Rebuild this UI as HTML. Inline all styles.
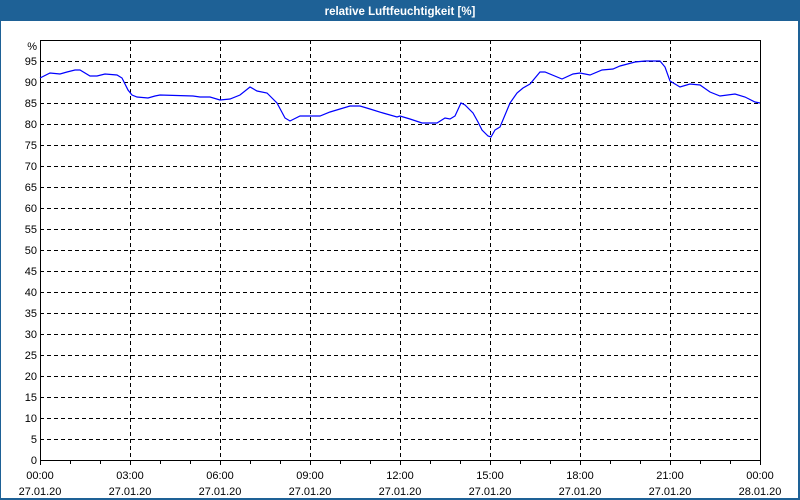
<!DOCTYPE html>
<html><head><meta charset="utf-8"><style>
html,body{margin:0;padding:0;background:#fff;}
svg{display:block;font-family:"Liberation Sans",sans-serif;font-size:11px;}
</style></head><body>
<svg width="800" height="500" viewBox="0 0 800 500" xmlns="http://www.w3.org/2000/svg">
<rect x="0" y="0" width="800" height="500" fill="#1e6196"/>
<rect x="1" y="21" width="797" height="477" fill="#fff"/>
<text x="400" y="15" fill="#fff" font-weight="bold" text-anchor="middle" font-size="11.5">relative Luftfeuchtigkeit [%]</text>
<g stroke="#000" stroke-width="1" stroke-dasharray="4,3" shape-rendering="crispEdges">
<line x1="40" x2="760" y1="61.5" y2="61.5"/><line x1="40" x2="760" y1="82.5" y2="82.5"/><line x1="40" x2="760" y1="103.5" y2="103.5"/><line x1="40" x2="760" y1="124.5" y2="124.5"/><line x1="40" x2="760" y1="145.5" y2="145.5"/><line x1="40" x2="760" y1="166.5" y2="166.5"/><line x1="40" x2="760" y1="187.5" y2="187.5"/><line x1="40" x2="760" y1="208.5" y2="208.5"/><line x1="40" x2="760" y1="229.5" y2="229.5"/><line x1="40" x2="760" y1="250.5" y2="250.5"/><line x1="40" x2="760" y1="271.5" y2="271.5"/><line x1="40" x2="760" y1="292.5" y2="292.5"/><line x1="40" x2="760" y1="313.5" y2="313.5"/><line x1="40" x2="760" y1="334.5" y2="334.5"/><line x1="40" x2="760" y1="355.5" y2="355.5"/><line x1="40" x2="760" y1="376.5" y2="376.5"/><line x1="40" x2="760" y1="397.5" y2="397.5"/><line x1="40" x2="760" y1="418.5" y2="418.5"/><line x1="40" x2="760" y1="439.5" y2="439.5"/>
<line x1="130.5" x2="130.5" y1="40" y2="460"/><line x1="220.5" x2="220.5" y1="40" y2="460"/><line x1="310.5" x2="310.5" y1="40" y2="460"/><line x1="400.5" x2="400.5" y1="40" y2="460"/><line x1="490.5" x2="490.5" y1="40" y2="460"/><line x1="580.5" x2="580.5" y1="40" y2="460"/><line x1="670.5" x2="670.5" y1="40" y2="460"/>
</g>
<rect x="40.5" y="40.5" width="720" height="420" fill="none" stroke="#000" shape-rendering="crispEdges"/>
<g stroke="#000" shape-rendering="crispEdges">
<line x1="40.5" x2="40.5" y1="460" y2="465"/><line x1="70.5" x2="70.5" y1="460" y2="464"/><line x1="100.5" x2="100.5" y1="460" y2="464"/><line x1="130.5" x2="130.5" y1="460" y2="465"/><line x1="160.5" x2="160.5" y1="460" y2="464"/><line x1="190.5" x2="190.5" y1="460" y2="464"/><line x1="220.5" x2="220.5" y1="460" y2="465"/><line x1="250.5" x2="250.5" y1="460" y2="464"/><line x1="280.5" x2="280.5" y1="460" y2="464"/><line x1="310.5" x2="310.5" y1="460" y2="465"/><line x1="340.5" x2="340.5" y1="460" y2="464"/><line x1="370.5" x2="370.5" y1="460" y2="464"/><line x1="400.5" x2="400.5" y1="460" y2="465"/><line x1="430.5" x2="430.5" y1="460" y2="464"/><line x1="460.5" x2="460.5" y1="460" y2="464"/><line x1="490.5" x2="490.5" y1="460" y2="465"/><line x1="520.5" x2="520.5" y1="460" y2="464"/><line x1="550.5" x2="550.5" y1="460" y2="464"/><line x1="580.5" x2="580.5" y1="460" y2="465"/><line x1="610.5" x2="610.5" y1="460" y2="464"/><line x1="640.5" x2="640.5" y1="460" y2="464"/><line x1="670.5" x2="670.5" y1="460" y2="465"/><line x1="700.5" x2="700.5" y1="460" y2="464"/><line x1="730.5" x2="730.5" y1="460" y2="464"/><line x1="760.5" x2="760.5" y1="460" y2="465"/>
</g>
<g fill="#000" text-anchor="end">
<text x="37" y="50">%</text>
<text x="37" y="65">95</text><text x="37" y="86">90</text><text x="37" y="107">85</text><text x="37" y="128">80</text><text x="37" y="149">75</text><text x="37" y="170">70</text><text x="37" y="191">65</text><text x="37" y="212">60</text><text x="37" y="233">55</text><text x="37" y="254">50</text><text x="37" y="275">45</text><text x="37" y="296">40</text><text x="37" y="317">35</text><text x="37" y="338">30</text><text x="37" y="359">25</text><text x="37" y="380">20</text><text x="37" y="401">15</text><text x="37" y="422">10</text><text x="37" y="443">5</text><text x="37" y="464">0</text>
</g>
<g fill="#000" text-anchor="middle">
<text x="40" y="479">00:00</text><text x="40" y="495">27.01.20</text>
<text x="130" y="479">03:00</text><text x="130" y="495">27.01.20</text>
<text x="220" y="479">06:00</text><text x="220" y="495">27.01.20</text>
<text x="310" y="479">09:00</text><text x="310" y="495">27.01.20</text>
<text x="400" y="479">12:00</text><text x="400" y="495">27.01.20</text>
<text x="490" y="479">15:00</text><text x="490" y="495">27.01.20</text>
<text x="580" y="479">18:00</text><text x="580" y="495">27.01.20</text>
<text x="670" y="479">21:00</text><text x="670" y="495">27.01.20</text>
<text x="760" y="479">00:00</text><text x="760" y="495">28.01.20</text>
</g>
<polyline fill="none" stroke="#0000ff" stroke-width="1.2" points="40,78 50,73 60,74 67,72 75,70 80,70 90,76 97,76 105,74 117,75 122,78 128,90 132,95 137,97 148,98 155,96 160,95 193,96 200,97 210,97 220,100 230,99 240,95 250,87 257,91 267,93 277,103 285,118 290,121 300,116 320,116 330,112 340,109 350,106 360,106 370,109 383,113 397,117 400,116 410,119 422,123 437,123 445,118 450,119 455,116 461,103 465,105 473,113 478,122 482,130 488,136 491,137 495,130 500,127 510,103 517,93 523,88 530,84 540,72 545,72 562,79 573,74 580,73 590,75 602,70 613,69 620,66 635,62 645,61 660,61 665,67 670,81 680,87 690,84 700,85 710,92 720,96 735,94 745,97 755,102 760,103"/>
</svg>
</body></html>
